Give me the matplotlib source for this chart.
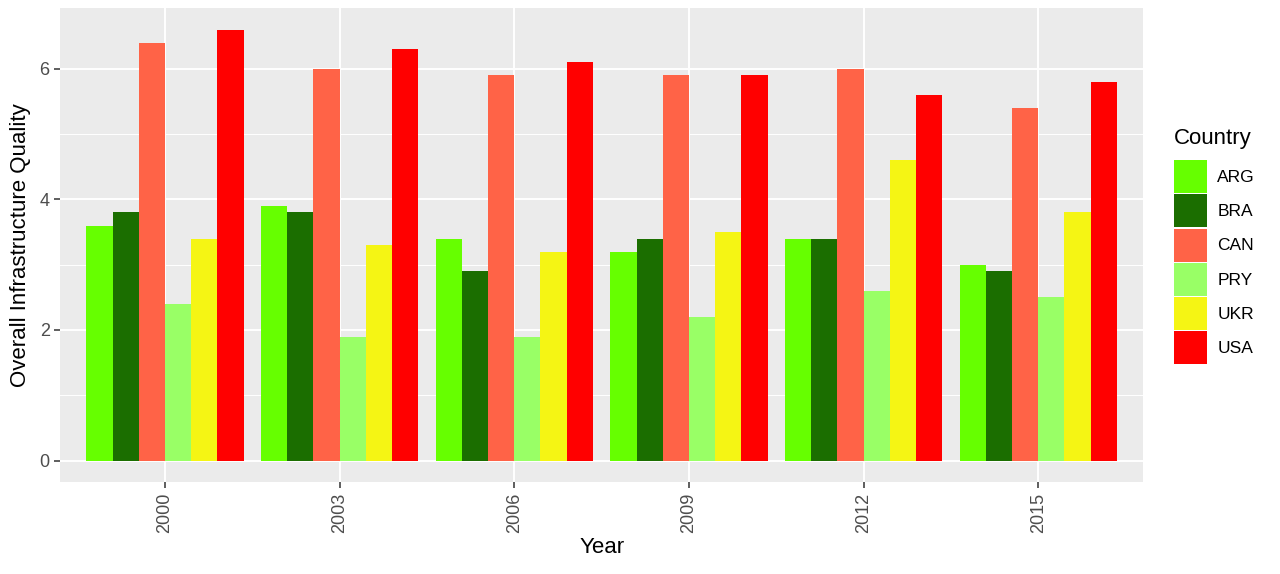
import numpy as np
import matplotlib.pyplot as plt

plt.rcParams['font.family'] = ['Liberation Sans', 'DejaVu Sans']

# Data
years = ['2000', '2003', '2006', '2009', '2012', '2015']
countries = ['ARG', 'BRA', 'CAN', 'PRY', 'UKR', 'USA']
arg = [3.6, 3.9, 3.4, 3.2, 3.4, 3.0]
bra = [3.8, 3.8, 2.9, 3.4, 3.4, 2.9]
can = [6.4, 6.0, 5.9, 5.9, 6.0, 5.4]
pry = [2.4, 1.9, 1.9, 2.2, 2.6, 2.5]
ukr = [3.4, 3.3, 3.2, 3.5, 4.6, 3.8]
usa = [6.6, 6.3, 6.1, 5.9, 5.6, 5.8]

series = [arg, bra, can, pry, ukr, usa]
colors = ['#66FF00', '#1B6E00', '#FF6347', '#99FF66', '#F5F514', '#FF0000']

fig = plt.figure(figsize=(12.8, 5.74), dpi=100)
ax = fig.add_axes([0.047, 0.160, 0.846, 0.826])

x = np.arange(len(years))
width = 0.9 / len(countries)
for i, (vals, c, name) in enumerate(zip(series, colors, countries)):
    offset = (i - (len(countries) - 1) / 2) * width
    ax.bar(x + offset, vals, width=width, color=c, label=name, zorder=3)

# ggplot-like theme
ax.set_facecolor('#EBEBEB')
for s in ax.spines.values():
    s.set_visible(False)
ax.set_xlim(-0.6, len(years) - 0.4)
ymax = max(max(v) for v in series)
ax.set_ylim(-0.05 * ymax, ymax * 1.05)
ax.set_yticks([0, 2, 4, 6])
ax.set_yticks([1, 3, 5], minor=True)
ax.set_xticks(x)
ax.set_xticklabels(years, rotation=90)
ax.grid(True, which='major', color='white', linewidth=1.4, zorder=0)
ax.grid(True, which='minor', axis='y', color='white', linewidth=0.7, zorder=0)
ax.tick_params(axis='both', which='major', colors='#333333', labelcolor='#4D4D4D',
               labelsize=13, length=4, width=1.1)
ax.tick_params(axis='y', which='minor', length=0)

ax.set_xlabel('Year', fontsize=16, labelpad=3)
ax.set_ylabel('Overall Infrastructure Quality', fontsize=16, labelpad=6)

leg = fig.legend(*ax.get_legend_handles_labels(), title='Country', loc='upper left',
                 bbox_to_anchor=(1174 / 1280, 1 - 128 / 574), borderpad=0, borderaxespad=0,
                 frameon=False, fontsize=12.5, title_fontsize=16,
                 handlelength=1.9, handleheight=2.55, labelspacing=0.07,
                 handletextpad=0.6)
leg._legend_box.align = 'left'
leg._legend_box.sep = 8

plt.savefig('out.png', dpi=100)
